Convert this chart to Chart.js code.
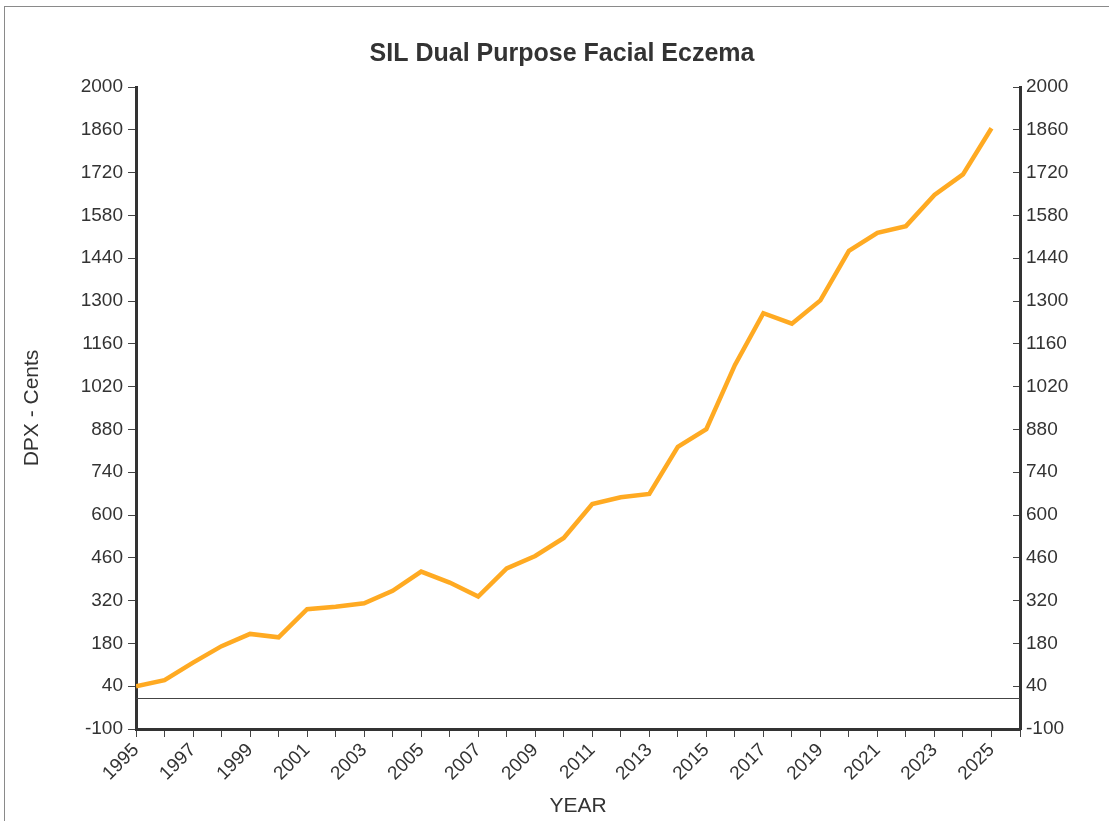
<!DOCTYPE html>
<html>
<head>
<meta charset="utf-8">
<script src="https://cdn.jsdelivr.net/npm/chart.js@4/dist/chart.umd.min.js"></script>
<style>
  html, body { margin: 0; padding: 0; background: #fff; }
  #wrap { position: relative; width: 1109px; height: 821px; }
  #frame { position: absolute; left: 4px; top: 6px; right: -10px; bottom: -10px;
           border-left: 1px solid #8a8a8a; border-top: 1px solid #8a8a8a; pointer-events: none; }
  canvas { position: absolute; left: 0; top: 0; }
</style>
</head>
<body>
<div id="wrap">
  <canvas id="chart" width="1109" height="821"></canvas>
  <div id="frame"></div>
</div>
<script>
const years = [
  1995, 1996, 1997, 1998, 1999, 2000, 2001, 2002, 2003, 2004,
  2005, 2006, 2007, 2008, 2009, 2010, 2011, 2012, 2013, 2014,
  2015, 2016, 2017, 2018, 2019, 2020, 2021, 2022, 2023, 2024, 2025
];
const dpxCents = [
  40, 60, 117, 171, 211, 200, 292, 300, 311, 352,
  415, 379, 333, 425, 466, 525, 636, 658, 669, 823,
  881, 1090, 1260, 1226, 1302, 1464, 1523, 1545, 1647, 1714, 1865
];
const yMin = -100, yMax = 2000, yStep = 140;
const xMin = 1995, xMax = 2026;

const FONT = '"Liberation Sans", Arial, Helvetica, sans-serif';
const TEXT = '#333';

// thin reference line at zero
const zeroLine = {
  id: 'zeroLine',
  beforeDatasetsDraw(chart) {
    const { ctx, chartArea, scales } = chart;
    const y = Math.round(scales.y.getPixelForValue(0)) + 0.5;
    ctx.save();
    ctx.strokeStyle = '#444';
    ctx.lineWidth = 1;
    ctx.beginPath();
    ctx.moveTo(chartArea.left, y);
    ctx.lineTo(chartArea.right, y);
    ctx.stroke();
    ctx.restore();
  }
};

const yTicks = {
  color: TEXT,
  font: { family: FONT, size: 19 },
  stepSize: yStep,
  callback: v => String(v)   // no thousands separator
};

new Chart(document.getElementById('chart'), {
  type: 'line',
  data: {
    datasets: [{
      label: 'DPX',
      data: years.map((yr, i) => ({ x: yr, y: dpxCents[i] })),
      borderColor: '#FFAA22',
      borderWidth: 4.5,
      pointRadius: 0,
      tension: 0,
      fill: false
    }]
  },
  options: {
    responsive: false,
    animation: false,
    layout: { padding: { left: 20, right: 5, top: 0, bottom: 0 } },
    plugins: {
      legend: { display: false },
      tooltip: { enabled: false },
      title: {
        display: true,
        text: 'SIL Dual Purpose Facial Eczema',
        color: TEXT,
        font: { family: FONT, size: 25, weight: 'bold' },
        padding: { top: 39, bottom: 18 }
      }
    },
    scales: {
      x: {
        type: 'linear',
        min: xMin,
        max: xMax,
        border: { display: true, color: '#333', width: 3 },
        grid: { drawOnChartArea: false, tickLength: 8, color: '#444', tickWidth: 1 },
        ticks: {
          stepSize: 1,
          autoSkip: false,
          minRotation: 45,
          maxRotation: 45,
          padding: 2,
          color: TEXT,
          font: { family: FONT, size: 19 },
          callback: v => (v % 2 === 1 ? String(v) : '')
        },
        title: {
          display: true,
          text: 'YEAR',
          color: TEXT,
          font: { family: FONT, size: 21 },
          padding: { top: 0, bottom: 2 }
        },
        afterFit: s => { s.height = 92; }
      },
      y: {
        position: 'left',
        min: yMin,
        max: yMax,
        border: { display: true, color: '#333', width: 3 },
        grid: { drawOnChartArea: false, tickLength: 8, color: '#444' },
        ticks: Object.assign({ padding: 5 }, yTicks),
        title: {
          display: true,
          text: 'DPX - Cents',
          color: TEXT,
          font: { family: FONT, size: 21 },
          padding: { top: 0, bottom: 0 }
        },
        afterFit: s => { s.width = 116; }
      },
      y2: {
        position: 'right',
        min: yMin,
        max: yMax,
        border: { display: true, color: '#333', width: 3 },
        grid: { drawOnChartArea: false, tickLength: -7, color: '#444' },
        ticks: Object.assign({ padding: 13 }, yTicks),
        afterFit: s => { s.width = 84; }
      }
    }
  },
  plugins: [zeroLine]
});
</script>
</body>
</html>
